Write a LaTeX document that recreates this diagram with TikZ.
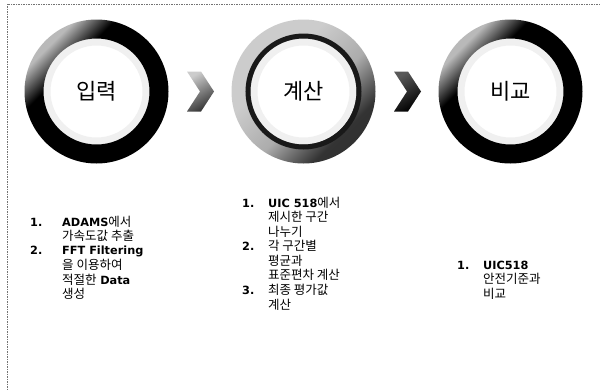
\documentclass[tikz,border=0pt]{standalone}
\usepackage{fontspec}
\setmainfont{DejaVu Sans}
\newfontfamily\kr{Noto Sans CJK KR}
\usetikzlibrary{calc}
\pgfdeclareverticalshading{ringdarkshade}{100bp}{color(0bp)=(black); color(63bp)=(black); color(73bp)=(gray!55); color(100bp)=(gray!55)}
\pgfdeclareverticalshading{ringlightshade}{100bp}{color(0bp)=(black!85); color(30bp)=(black!80); color(45bp)=(gray!65); color(62bp)=(gray!40); color(100bp)=(gray!40)}
\newcommand{\K}[1]{{\kr\fontsize{12.5}{14.2}\selectfont #1}}
\newcommand{\B}[1]{\textbf{#1}}
\begin{document}
\begin{tikzpicture}[x=1pt,y=-1pt,
  stage/.style={circle, minimum size=100pt, inner sep=0pt, font=\kr\fontsize{22}{25}\selectfont},
  listbox/.style={anchor=base west, inner sep=0pt, font=\fontsize{11.3}{14.2}\selectfont},
  darkring/.style={even odd rule, shading=ringdarkshade, shading angle=45},
  lightring/.style={even odd rule, shading=ringlightshade, shading angle=45},
  fringe/.style={even odd rule, fill=gray!12},
  chevlight/.style={top color=gray!40, bottom color=black!80, shading angle=30},
  chevdark/.style={top color=black!65, bottom color=black, shading angle=30}]
\useasboundingbox (0,0) rectangle (600,389);
\fill[white] (0,0) rectangle (600,389);
\draw[black!55, line width=0.9pt, dash pattern=on 1.5pt off 1pt] (600,4) -- (7,4) -- (7,389);

% stages
\node[stage] (in) at (96.5,91.5) {입력};
\node[stage] (calc) at (303.5,91.5) {계산};
\node[stage] (cmp) at (510.5,91.5) {비교};

\fill[fringe] (in.center) circle[radius=53] (in.center) circle[radius=46];
\shade[darkring] (in.center) circle[radius=72] (in.center) circle[radius=53];

\fill[fringe] (calc.center) circle[radius=53] (calc.center) circle[radius=46];
\shade[lightring] (calc.center) circle[radius=72] (calc.center) circle[radius=53];
\draw[black!90, line width=5pt] (calc.center) circle[radius=55.5];

\fill[fringe] (cmp.center) circle[radius=53] (cmp.center) circle[radius=46];
\shade[darkring] (cmp.center) circle[radius=72] (cmp.center) circle[radius=53];

% chevrons
\coordinate (c1) at ($(in.center)!0.5!(calc.center)$);
\coordinate (c2) at ($(calc.center)!0.5!(cmp.center)$);
\shade[chevlight] ($(c1)+(-13,-20)$) -- ++(14,0) -- ++(13,20) -- ++(-13,20) -- ++(-14,0) -- ++(13,-20) -- cycle;
\shade[chevdark] ($(c2)+(-13,-20)$) -- ++(14,0) -- ++(13,20) -- ++(-13,20) -- ++(-14,0) -- ++(13,-20) -- cycle;

% lists
\node[listbox] (l1) at (30,226) {\begin{tabular}[t]{@{}p{32pt}@{}l@{}}
\B{1.} & \B{ADAMS}\K{에서}\\
 & \K{가속도값 추출}\\
\B{2.} & \B{FFT Filtering}\\
 & \K{을 이용하여}\\
 & \K{적절한} \B{Data}\\
 & \K{생성}
\end{tabular}};
\node[listbox] (l2) at (242,207) {\begin{tabular}[t]{@{}p{26pt}@{}l@{}}
\B{1.} & \B{UIC 518}\K{에서}\\
 & \K{제시한 구간}\\
 & \K{나누기}\\
\B{2.} & \K{각 구간별}\\
 & \K{평균과}\\
 & \K{표준편차 계산}\\
\B{3.} & \K{최종 평가값}\\
 & \K{계산}
\end{tabular}};
\node[listbox] (l3) at (457,269) {\begin{tabular}[t]{@{}p{26pt}@{}l@{}}
\B{1.} & \B{UIC518}\\
 & \K{안전기준과}\\
 & \K{비교}
\end{tabular}};
\end{tikzpicture}
\end{document}
